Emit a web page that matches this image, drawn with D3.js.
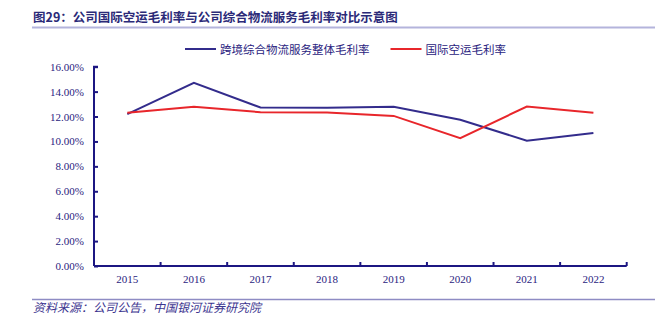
<!DOCTYPE html>
<html>
<head>
<meta charset="utf-8">
<script src="https://cdn.jsdelivr.net/npm/d3@7"></script>
<style>
  body { margin: 0; background: #fff; }
  svg { display: block; }
</style>
</head>
<body>
<div id="chart"></div>
<script>
// Years and margin series (%)
var years = ["2015", "2016", "2017", "2018", "2019", "2020", "2021", "2022"];
var logisticsMargin = [12.2, 14.7, 12.72, 12.7, 12.78, 11.74, 10.06, 10.67];
var airFreightMargin = [12.3, 12.78, 12.35, 12.32, 12.05, 10.27, 12.8, 12.3];
var yTicks = [0, 2, 4, 6, 8, 10, 12, 14, 16];
var seriesNames = ["跨境综合物流服务整体毛利率", "国际空运毛利率"];

var width = 668, height = 325;
var axisColor = "#1c1682";
var labelColor = "#2a2380";
var colors = ["#332c8c", "#e8262b"];

var svg = d3.select("#chart")
    .append("svg")
    .attr("width", width)
    .attr("height", height);

// Title and rule under it
svg.append("text")
    .attr("x", 33)
    .attr("y", 22)
    .attr("font-family", "Noto Sans CJK SC")
    .attr("font-size", "12.5px")
    .attr("font-weight", "bold")
    .attr("fill", "#2b2a78")
    .text("图29：公司国际空运毛利率与公司综合物流服务毛利率对比示意图");

svg.append("line")
    .attr("x1", 32).attr("x2", 655)
    .attr("y1", 27.5).attr("y2", 27.5)
    .attr("stroke", "#b4b4dc")
    .attr("stroke-width", 2);

// Scales
var xScale = d3.scaleBand()
    .domain(years)
    .range([94, 626.7]);

var yScale = d3.scaleLinear()
    .domain([0, 16])
    .range([266, 66.7]);

// Y axis
var yAxis = d3.axisLeft(yScale)
    .tickValues(yTicks)
    .tickSize(-4)
    .tickPadding(10)
    .tickFormat(function(d) { return d.toFixed(2) + "%"; });

var gy = svg.append("g")
    .attr("transform", "translate(94,0)")
    .call(yAxis);

gy.select(".domain")
    .attr("d", "M4," + yScale(16) + "H0V" + yScale(0))
    .attr("stroke", axisColor)
    .attr("stroke-width", 2);
gy.selectAll(".tick line")
    .attr("stroke", axisColor)
    .attr("stroke-width", 2);
gy.selectAll(".tick text")
    .attr("font-family", "Liberation Serif")
    .attr("font-size", "11px")
    .attr("fill", labelColor);

// X axis with ticks on band edges
var gx = svg.append("g")
    .attr("transform", "translate(0," + yScale(0) + ")");

gx.append("line")
    .attr("x1", 94).attr("x2", 626.7)
    .attr("y1", 0).attr("y2", 0)
    .attr("stroke", axisColor)
    .attr("stroke-width", 2);

var edges = years.map(function(d) { return xScale(d); }).concat([xScale.range()[1]]);
gx.selectAll(".edge")
    .data(edges.slice(1))
    .enter()
    .append("line")
    .attr("class", "edge")
    .attr("x1", function(d) { return d; })
    .attr("x2", function(d) { return d; })
    .attr("y1", 0).attr("y2", -4)
    .attr("stroke", axisColor)
    .attr("stroke-width", 2);

gx.selectAll(".year")
    .data(years)
    .enter()
    .append("text")
    .attr("class", "year")
    .attr("x", function(d) { return xScale(d) + xScale.bandwidth() / 2; })
    .attr("y", 17)
    .attr("text-anchor", "middle")
    .attr("font-family", "Liberation Serif")
    .attr("font-size", "11px")
    .attr("fill", labelColor)
    .text(function(d) { return d; });

// Lines
var line = d3.line()
    .x(function(d, i) { return xScale(years[i]) + xScale.bandwidth() / 2; })
    .y(function(d) { return yScale(d); });

[logisticsMargin, airFreightMargin].forEach(function(values, k) {
    svg.append("path")
        .datum(values)
        .attr("d", line)
        .attr("fill", "none")
        .attr("stroke", colors[k])
        .attr("stroke-width", 2);
});

// Legend
var legendX = [185, 390.5];
seriesNames.forEach(function(name, k) {
    var g = svg.append("g").attr("transform", "translate(" + legendX[k] + ",49)");
    g.append("line")
        .attr("x1", 0).attr("x2", 31)
        .attr("y1", 0).attr("y2", 0)
        .attr("stroke", colors[k])
        .attr("stroke-width", 2);
    g.append("text")
        .attr("x", 35)
        .attr("y", 4.5)
        .attr("font-family", "Noto Sans CJK SC")
        .attr("font-size", "11.5px")
        .attr("fill", labelColor)
        .text(name);
});

// Source note
svg.append("line")
    .attr("x1", 32).attr("x2", 655)
    .attr("y1", 299.5).attr("y2", 299.5)
    .attr("stroke", "#8e8cc4")
    .attr("stroke-width", 1.5);

svg.append("text")
    .attr("x", 33)
    .attr("y", 312)
    .attr("font-family", "Noto Sans CJK SC")
    .attr("font-size", "12px")
    .attr("font-style", "italic")
    .attr("fill", "#3c3590")
    .text("资料来源：公司公告，中国银河证券研究院");
</script>
</body>
</html>
